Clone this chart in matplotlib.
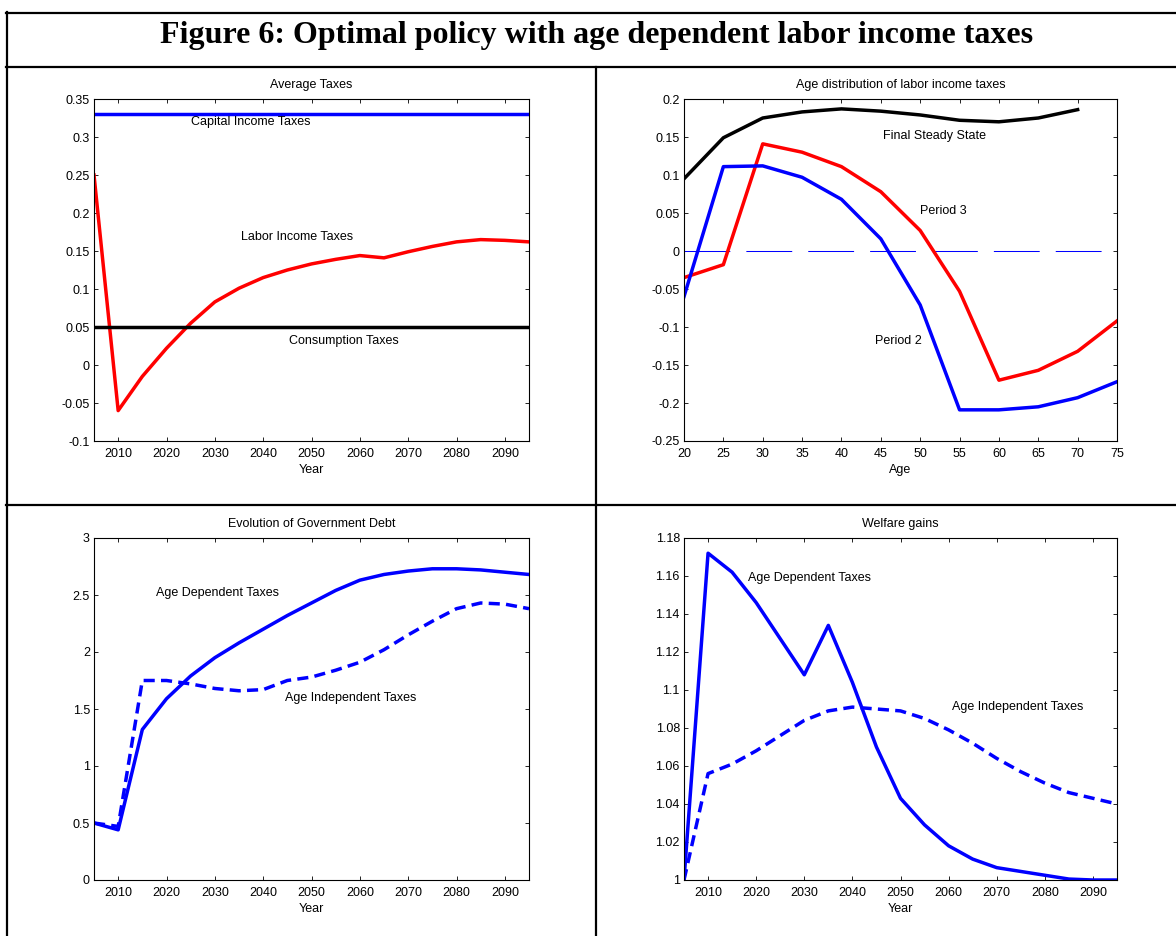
import matplotlib
matplotlib.use("Agg")
import matplotlib.pyplot as plt
from matplotlib.lines import Line2D
from matplotlib.ticker import FuncFormatter
import numpy as np

plt.rcParams['font.family'] = ['Liberation Sans', 'DejaVu Sans']
plt.rcParams['axes.unicode_minus'] = False

W, H = 1176, 936

# ---- data ----
years = list(range(2005, 2100, 5))
labor_tax = [0.25, -0.06, -0.015, 0.022, 0.055, 0.083, 0.101, 0.115, 0.125, 0.133,
             0.139, 0.144, 0.141, 0.149, 0.156, 0.162, 0.165, 0.164, 0.162]
capital_tax = 0.33
consumption_tax = 0.05

ages = list(range(20, 80, 5))
final_ss = [0.095, 0.149, 0.175, 0.183, 0.187, 0.184, 0.179, 0.172, 0.170, 0.175, 0.186]
period3 = [-0.035, -0.018, 0.141, 0.130, 0.111, 0.078, 0.027, -0.053, -0.170, -0.157, -0.132, -0.092]
period2 = [-0.060, 0.111, 0.112, 0.097, 0.068, 0.016, -0.071, -0.209, -0.209, -0.205, -0.193, -0.172]

debt_dep = [0.50, 0.44, 1.32, 1.59, 1.79, 1.95, 2.08, 2.20, 2.32, 2.43,
            2.54, 2.63, 2.68, 2.71, 2.73, 2.73, 2.72, 2.70, 2.68]
debt_indep = [0.50, 0.47, 1.75, 1.75, 1.72, 1.68, 1.66, 1.67, 1.75, 1.78,
              1.84, 1.91, 2.02, 2.15, 2.27, 2.38, 2.43, 2.42, 2.38]

welfare_dep = [1.0, 1.172, 1.162, 1.146, 1.127, 1.108, 1.134, 1.104, 1.070, 1.043,
               1.029, 1.018, 1.011, 1.0065, 1.0045, 1.0025, 1.0005, 1.0, 1.0]
welfare_indep = [1.0, 1.056, 1.061, 1.068, 1.076, 1.084, 1.089, 1.091, 1.090, 1.089,
                 1.085, 1.079, 1.072, 1.064, 1.057, 1.051, 1.046, 1.043, 1.040]

year_ticks = list(range(2010, 2100, 10))
FS = 9
LW = 2.5
DASH = (0, (3.2, 1.8))


def rect(l, t, r, b):
    return [l / W, 1 - b / H, (r - l) / W, (b - t) / H]


def fmt(v, p):
    v = round(v, 4)
    if abs(v) < 1e-9:
        v = 0
    return '%g' % v


def style(ax, title, xlabel):
    ax.set_title(title, fontsize=FS, pad=8)
    ax.set_xlabel(xlabel, fontsize=FS, labelpad=3)
    ax.tick_params(direction='in', top=True, right=True, length=3, width=0.6,
                   labelsize=FS)
    ax.tick_params(axis='x', pad=5)
    ax.tick_params(axis='y', pad=3)
    for s in ax.spines.values():
        s.set_linewidth(0.8)
    ax.yaxis.set_major_formatter(FuncFormatter(fmt))


fig = plt.figure(figsize=(W / 100, H / 100), dpi=100)

# table borders
def hline(y, x0, x1):
    fig.add_artist(Line2D([x0 / W, x1 / W], [1 - y / H, 1 - y / H], color='black', lw=1.6))

def vline(x, y0, y1):
    fig.add_artist(Line2D([x / W, x / W], [1 - y0 / H, 1 - y1 / H], color='black', lw=1.6))

hline(12.5, 6, W)
hline(67, 6, W)
hline(505, 6, W)
vline(6.5, 12, H)
vline(596, 67, H)

fig.text(597 / W, 1 - 35 / H, 'Figure 6: Optimal policy with age dependent labor income taxes',
         ha='center', va='center', fontsize=23, fontweight='bold',
         family=['Liberation Serif', 'DejaVu Serif'])

# ---- panel 1 ----
ax1 = fig.add_axes(rect(94, 99, 529, 441))
ax1.axhline(capital_tax, color='blue', lw=LW)
ax1.plot(years, labor_tax, color='red', lw=LW)
ax1.axhline(consumption_tax, color='black', lw=LW)
ax1.set_xlim(2005, 2095)
ax1.set_ylim(-0.1, 0.35)
ax1.set_xticks(year_ticks)
ax1.set_yticks(np.arange(-0.1, 0.351, 0.05))
ax1.text(2025, 0.320, 'Capital Income Taxes', fontsize=FS, va='center')
ax1.text(2035.4, 0.168, 'Labor Income Taxes', fontsize=FS, va='center')
ax1.text(2045.3, 0.032, 'Consumption Taxes', fontsize=FS, va='center')
style(ax1, 'Average Taxes', 'Year')

# ---- panel 2 ----
ax2 = fig.add_axes(rect(684, 99, 1117, 441))
ax2.plot([20, 75], [0, 0], color='blue', lw=0.75, linestyle=(0, (44, 15.4)))
ax2.plot(ages[:len(final_ss)], final_ss, color='black', lw=LW)
ax2.plot(ages, period3, color='red', lw=LW)
ax2.plot(ages, period2, color='blue', lw=LW)
ax2.set_xlim(20, 75)
ax2.set_ylim(-0.25, 0.2)
ax2.set_xticks(ages)
ax2.set_yticks(np.arange(-0.25, 0.201, 0.05))
ax2.text(45.3, 0.151, 'Final Steady State', fontsize=FS, va='center')
ax2.text(50.0, 0.053, 'Period 3', fontsize=FS, va='center')
ax2.text(44.3, -0.118, 'Period 2', fontsize=FS, va='center')
style(ax2, 'Age distribution of labor income taxes', 'Age')

# ---- panel 3 ----
ax3 = fig.add_axes(rect(94, 538, 529, 880))
ax3.plot(years, debt_dep, color='blue', lw=LW)
ax3.plot(years, debt_indep, color='blue', lw=LW, linestyle=DASH)
ax3.set_xlim(2005, 2095)
ax3.set_ylim(0, 3)
ax3.set_xticks(year_ticks)
ax3.set_yticks(np.arange(0, 3.01, 0.5))
ax3.text(2017.9, 2.52, 'Age Dependent Taxes', fontsize=FS, va='center')
ax3.text(2044.5, 1.60, 'Age Independent Taxes', fontsize=FS, va='center')
style(ax3, 'Evolution of Government Debt', 'Year')

# ---- panel 4 ----
ax4 = fig.add_axes(rect(684, 538, 1117, 880))
ax4.plot(years, welfare_dep, color='blue', lw=LW)
ax4.plot(years, welfare_indep, color='blue', lw=LW, linestyle=DASH)
ax4.set_xlim(2005, 2095)
ax4.set_ylim(1, 1.18)
ax4.set_xticks(year_ticks)
ax4.set_yticks(np.arange(1, 1.1801, 0.02))
ax4.text(2018.3, 1.159, 'Age Dependent Taxes', fontsize=FS, va='center')
ax4.text(2060.7, 1.091, 'Age Independent Taxes', fontsize=FS, va='center')
style(ax4, 'Welfare gains', 'Year')

fig.savefig('out.png', dpi=100)
